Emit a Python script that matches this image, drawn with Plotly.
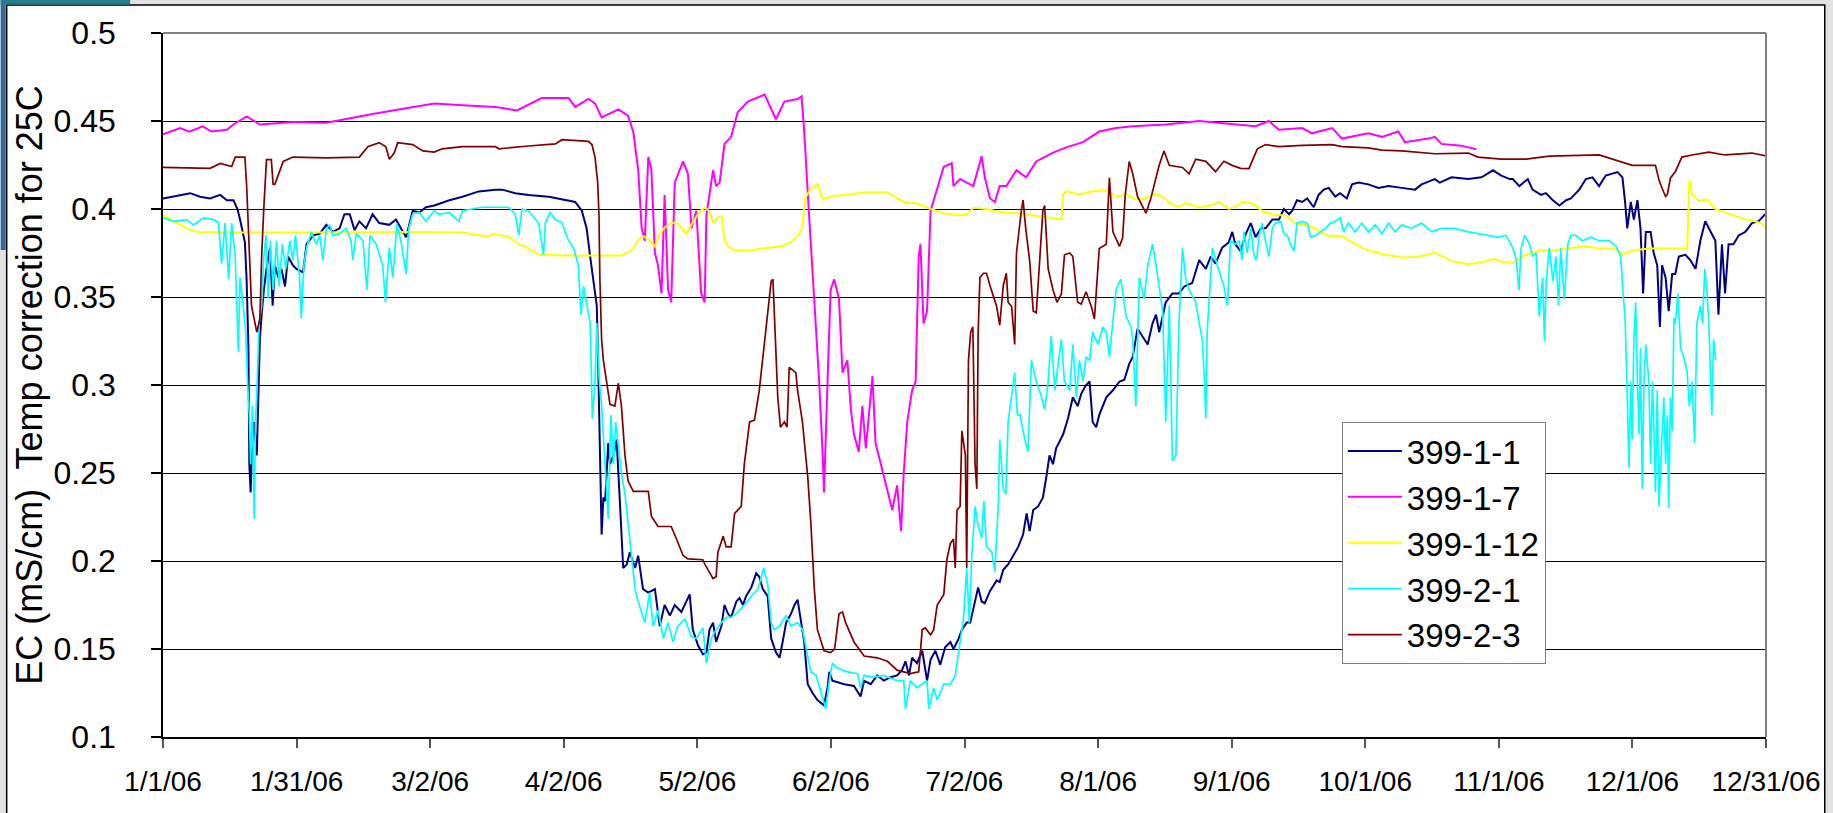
import plotly.graph_objects as go

# ---------------- data (day of year 2006, value) ----------------
TICK_LABELS = ["1/1/06", "1/31/06", "3/2/06", "4/2/06", "5/2/06", "6/2/06", "7/2/06",
               "8/1/06", "9/1/06", "10/1/06", "11/1/06", "12/1/06", "12/31/06"]
Y_TICKS = [0.1, 0.15, 0.2, 0.25, 0.3, 0.35, 0.4, 0.45, 0.5]
SERIES_NAMES = ["399-1-1", "399-1-7", "399-1-12", "399-2-1", "399-2-3"]
SERIES_COLORS = ["#000080", "#FF00FF", "#FFFF00", "#00FFFF", "#800000"]

DAY_1_1 = [0, 3.9, 6.2, 8.4, 10.7, 13, 14.5, 16, 16.9, 17.5, 18.1, 18.6, 19, 19.4, 19.6, 19.9, 20.2, 20.7,
           21.3, 21.6, 22, 22.4, 22.9, 23.5, 24.3, 24.9, 25.4, 26.2, 26.9, 27.7, 28.4, 29.5, 30.3, 31.8,
           32.6, 34.1, 35.6, 37.1, 38.6, 40.1, 41.2, 42.4, 43.5, 44.6, 46.1, 47.6, 49.1, 51.4, 52.9, 55.2,
           56.7, 58.2, 59.7, 61.6,
           62.7, 65, 68, 71.7, 75.5, 77, 80, 83, 87.6, 92.1, 93.6, 95.1, 96.2, 97, 97.7, 98.5, 98.9, 99.2,
           99.6, 100, 100.4, 101.1, 101.5, 102.3, 103, 103.8, 104.5, 105.3, 106, 107.2, 107.9, 109, 110.2,
           111.7, 112.8, 113.9, 115.1, 116.2, 117.7, 119.6, 120.3, 121.5,
           122.6, 123.4, 124.1, 124.9, 125.6, 126.8, 127.5, 128.3, 129, 130.2, 130.9, 131.7, 132.4, 133.6,
           134.7, 135.4, 136.2, 137.3, 138.1, 139.2, 140, 140.7, 141.5, 142.6, 143.4, 144.1, 144.9, 145.6,
           146.4, 147.5, 148.6, 150.1, 150.9, 151.3, 152, 153.2, 154.7, 156.9, 158.4, 159.2, 160.7, 162.2,
           163.7, 165.2, 166.7, 167.8, 168.6, 169.4, 170.1, 171.2, 172.4, 173.5, 174.3, 175.4, 176.5, 177.6,
           178.8, 179.5, 180.7, 181.4, 182.5,
           183.3, 184.4, 185.1, 185.9, 186.6, 187.8, 189.3, 190, 190.8, 191.9, 193, 194.2, 195.3, 196.1,
           196.8, 197.6, 198.7, 199.8, 200.6, 201.3, 202.1, 202.8, 204.4, 205.5, 206.6, 207.7, 208.5, 209.6,
           210.4, 211.1, 211.9, 212.6, 214.2, 215.7, 217.2, 218.3, 219.4, 220.2, 221.3, 222.4, 223.6, 224.7,
           225.5, 226.2, 227.7, 229.2, 230.7, 231.9, 233.7, 235.3, 236.8, 237.9, 239, 240.5, 242, 242.8,
           243.5, 244.7,
           245.9, 247, 248.1, 249.3, 250.4, 251.9, 253.4, 254.5, 255.7, 256.4, 257.5, 258.7, 259.8, 261.3,
           262.4, 263.6, 264.7, 266.2, 267.3, 268.8, 270, 271.5, 273.7, 276, 278.3, 281.3, 284.3, 285.8,
           288.8, 289.9, 292.6, 296.4, 299.4, 302, 303.9, 305.8,
           306.5, 308, 309.9, 311, 312.9, 314, 315.6, 317.1, 318.6, 319.7, 321.6, 323.1, 324.6, 326.1, 327.6,
           330.3, 331.4, 332, 332.5, 333.3, 334, 334.8, 335.5, 336.1, 336.7, 337.8, 338.5, 339.3, 339.9,
           340.4, 341.2, 341.9, 342.7, 343.4, 344.2, 345.7, 346.8, 348, 349.1, 350.2, 351.4, 352.5, 353.2,
           354, 354.7, 355.5, 356.6, 357.8, 359.3, 360.8, 362.3, 363.8]
VAL_1_1 = [.406, .408, .409, .407, .406, .408, .405, .405, .400, .394, .387, .381, .359, .321, .255, .239, .264, .279,
           .260, .297, .326, .340, .354, .366, .378, .345, .368, .361, .366, .356, .373, .368, .366, .364,
           .380, .385, .386, .391, .387, .389, .397, .397, .388, .393, .389, .397, .392, .391, .394, .384,
           .399, .398, .401, .402,
           .403, .405, .407, .410, .411, .411, .409, .408, .407, .405, .404, .399, .389, .373, .361, .345, .302, .255,
           .215, .236, .234, .267, .255, .260, .269, .231, .196, .198, .205, .196, .203, .184, .182,
           .184, .163, .175, .169, .175, .171, .181, .161, .152,
           .147, .148, .161, .165, .154, .163, .175, .170, .168, .177, .179, .175, .180, .185,
           .193, .191, .184, .180, .156, .148, .145, .154, .165, .170, .175, .178, .165, .154,
           .130, .125, .121, .118, .128, .137, .132, .131, .130, .129, .123, .132, .130, .135,
           .132, .134, .135, .138, .143, .135, .145, .142, .149, .132, .144, .149, .141, .151,
           .154, .150, .156, .161, .165,
           .165, .177, .185, .177, .176, .183, .189, .188, .195, .198, .203, .208, .215, .227,
           .217, .229, .231, .236, .248, .260, .255, .264, .272, .281, .293, .288, .295, .300,
           .302, .279, .276, .283, .293, .297, .302, .303, .312, .316, .332, .328, .323, .335,
           .340, .330, .347, .352, .352, .356, .358, .371, .366, .373, .369, .378, .381, .387,
           .380, .376,
           .386, .392, .384, .389, .389, .394, .394, .400, .397, .399, .405, .404, .406, .401,
           .408, .411, .412, .407, .409, .406, .414, .415, .414, .412, .413, .412, .411, .414,
           .417, .415, .418, .417, .418, .422, .419, .417,
           .417, .413, .417, .411, .408, .409, .405, .402, .405, .406, .411, .417, .418, .413, .419,
           .421, .418, .404, .389, .404, .394, .405, .389, .352, .387, .387, .375, .368, .333,
           .368, .361, .342, .363, .363, .373, .374, .371, .366, .382, .393, .387, .382, .340,
           .380, .352, .380, .380, .385, .387, .392, .393, .397]

DAY_1_7 = [0, 3.9, 6, 9, 11, 14.5, 16, 19, 22, 29.5, 37.1, 43.1, 47.6, 52.2, 56.7, 61.6,
           68, 75.5, 80.4, 86, 92.1, 93.6, 96.6, 98.1, 99.6, 103.4, 105.6, 106.8, 107.9, 108.7, 109.4,
           110.2, 110.9, 111.7, 112.4, 113.2, 113.9, 114.7, 115.4, 116.2, 118.1, 119.2, 120, 121.1, 122.2,
           123, 123.4, 124.1, 124.9, 125.6, 126.4, 127.5, 129, 130.5, 132.8, 136.6, 139.2, 141.1, 144.1,
           145, 145.6, 146.7, 147.9, 149, 149.8, 150.1, 150.9, 151.6, 152.4, 153.5, 154.3, 155.4, 156.2,
           156.9, 158, 158.8, 159.6, 161.1, 161.8, 163, 164.1, 165.6, 166.7, 167.6, 168.2, 169, 170.1,
           170.9, 171.6, 172, 172.7, 173.5, 174.3, 175.8, 177.3, 179.1, 179.5, 181, 183.3,
           184, 185.9, 186.6, 187.8, 188.9, 190, 191.5, 193.8, 196, 198.3, 202.1, 205.1, 208.9, 212.6,
           216.4, 220.2, 227.7, 235.3, 244.7,
           248.1, 251.1, 253.4, 258.7, 260.9, 265.5, 267.7, 273.7, 276.8, 280.5, 282, 287.3, 288.8,
           290.3, 294.8, 298.2]
VAL_1_7 = [.4425, .446, .444, .447, .444, .445, .448, .4526, .448, .4495, .449, .452, .454, .456, .458, .460,
           .459, .458, .456, .463, .463, .458, .4625, .460, .452, .4566, .453, .4436, .4224, .389, .382,
           .4295, .4224, .375, .368, .352, .408, .354, .347, .415, .427, .420, .389, .399, .352,
           .347, .3965, .408, .422, .413, .415, .437, .441, .455, .461, .465, .451, .461, .4625,
           .464, .444, .397, .349, .302, .260, .239, .302, .354, .360, .349, .307, .314, .286,
           .272, .262, .288, .264, .305, .267, .255, .243, .229, .243, .217, .250, .279, .297,
           .302, .373, .380, .335, .342, .399, .411, .424, .426, .413, .417, .414,
           .413, .430, .418, .406, .404, .413, .413, .422, .418, .427, .432, .435, .438, .444,
           .446, .447, .448, .450, .448,
           .447, .450, .445, .446, .443, .446, .440, .443, .441, .444, .438, .440, .441,
           .437, .436, .434]

DAY_1_12 = [0, 2.4, 5.4, 7.7, 14.5, 29.5, 44.6, 59.7,
            68, 70.2, 74, 74.7, 78.5, 80.8, 83, 85.3, 90.6, 98.1, 104.1, 106.4, 107.9, 109, 110.5, 111.7,
            112.8, 113.9, 115.4, 116.9, 118.8, 120.7, 121.9,
            123, 124.1, 124.9, 126, 126.9, 127.5, 128.3, 129.8, 132.8, 136.6, 140.3, 142.6, 144.1, 145.2,
            145.8, 147.1, 148.6, 149.8, 151.6, 155.4, 159.2, 164.5, 168.2, 171.2, 174.3, 177.3, 180.3, 182.5,
            184, 187, 190, 193.8, 197.6, 200.6, 204, 204.4, 205.1, 208.1, 211.1, 214.2, 216.4, 218.7, 220.9,
            222.4, 224.7, 226.2, 227.7, 229.2, 230.7, 232.2, 235.3, 238.3, 239.8, 242, 243.5,
            245.1, 247.4, 249.6, 252.6, 254.9, 257.2, 260.2, 264.7, 267.7, 270.7, 273.7, 277.5, 281.3,
            285.1, 288.8, 292.6, 296.4, 300.1, 302.4, 303.9, 305.8,
            306.5, 309.5, 312.5, 315.6, 318.6, 323.1, 326.1, 329.9, 331.4, 333.6, 337.4, 341.2, 346.1,
            346.6, 347.2, 348.7, 350.6, 352.5, 356.3, 359.3, 360.8, 363, 364]
VAL_1_12 = [.3965, .393, .389, .387, .3866, .3866, .387, .387,
            .3866, .3858, .3842, .3858, .3842, .380, .3776, .3741, .3736, .3736, .3736, .3764, .3823, .3847, .3823, .3788,
            .3858, .3894, .3922, .3917, .3858, .3941, .3988,
            .4007, .3988, .3922, .3953, .3953, .3823, .3788, .3764, .3764, .3776, .3788, .3811, .3847, .3894,
            .4059, .4118, .4142, .4054, .4071, .4083, .4094, .4094, .404, .4031, .400, .3976, .3965, .3969,
            .4007, .400, .3983, .3976, .3965, .3953, .3941, .4083, .4101, .4083, .4101, .4106, .4071, .4083, .4054,
            .4054, .4078, .4083, .4054, .4024, .4012, .4035, .4007, .4024, .404, .400, .4012,
            .404, .4031, .3988, .3965, .3965, .3917, .3906, .3847, .3847, .380, .3764, .3741, .3724,
            .3729, .3752, .3705, .3686, .370, .3717, .370, .3693,
            .3693, .3741, .3764, .3764, .3776, .3788, .3776, .3776, .3741, .3764, .3776, .3776, .3776,
            .4165, .4083, .4047, .4054, .400, .3965, .3941, .3936, .3917, .3894]

DAY_2_1 = [0, 2.4, 5.4, 6.9, 9.2, 11.5, 12.6, 13.3, 14.1, 14.9, 15.6, 16.4, 17.1, 17.5, 18.2, 18.8, 19.2,
           19.6, 19.9, 20.3, 20.7, 21, 21.4, 21.8, 22.4, 22.9, 23.4, 23.9, 24.4, 25, 25.8, 26.4, 27.1, 27.9,
           28.8, 29.5, 30.1, 31, 31.4, 32, 32.6, 33.7, 34.8, 35.6, 36.3, 37.1, 37.8, 38.6, 40.1, 41.6, 42.7,
           43.1, 43.9, 45.4, 46.3, 47, 48.4, 49.9, 50.5, 51.4, 52.2, 53.1, 54, 55.2, 55.8, 56.7, 58.2, 59.7,
           61.6,
           62.7, 65, 67.2, 68, 70.2, 72.5, 75.5, 78.5, 80, 80.8, 81.5, 83, 85.3, 86.4, 86.8, 87.9, 89.1,
           90.6, 92.1, 93.2, 94.3, 94.9, 95.5, 96.2, 97, 97.5, 98.1, 98.5, 99, 99.6, 100.4, 101.1, 101.7,
           102.3, 102.8, 103.4, 104.1, 104.9, 105.6, 106.4, 107.2, 107.9, 108.7, 109.4, 110.5, 111.3, 112.4,
           113.6, 114.7, 115.8, 116.9, 118.5, 120, 121.1, 122.6,
           123.4, 124.5, 125.6, 126.8, 127.9, 129, 130.5, 132, 133.6, 135.1, 136.4, 137.3, 138.1, 138.8,
           140, 141.5, 142.6, 144.1, 145.2, 146, 147.1, 148.3, 149.4, 150.5, 151.3, 152, 153.2, 155.4,
           157.7, 158.4, 159.2, 161.4, 163.7, 166.7, 168.2, 168.6, 169.7, 171.2, 173.5, 173.9, 175, 175.8,
           177.3, 178.8, 179.9, 181, 181.8, 182.5,
           183.1, 183.6, 184.4, 185.1, 185.9, 186.4, 187, 188.2, 188.9, 189.7, 190, 190.8, 191.4, 191.9,
           192.7, 193.4, 194, 194.6, 195.7, 196.4, 197.2, 198.3, 199.5, 200.2, 201, 201.7, 202.5, 203.2,
           204, 204.7, 205.9, 206.6, 207.4, 208.1, 208.9, 209.6, 210.4, 211.1, 212.3, 213.4, 214.2, 214.9,
           215.7, 216.4, 217.5, 218.7, 219.8, 220.2, 220.9, 221.7, 222.8, 223.6, 224.7, 225.5, 227, 227.3,
           227.7, 228.5, 229.2, 230, 230.7, 231.5, 232.2, 233, 234.5, 235.3, 236, 236.4, 236.8, 237.1,
           238.3, 239.4, 240.9, 241.7, 242.4, 243.5,
           244.4, 245, 245.5, 246.2, 247, 247.7, 248.3, 248.9, 249.6, 250.4, 251.1, 251.9, 252.6, 253.8,
           254.5, 255.3, 256, 256.8, 257.5, 258.7, 259.8, 260.6, 261.7, 262.8, 264, 265.1, 266.2, 267.3,
           268.1, 269.2, 270.7, 272.2, 273.7, 275.3, 276.8, 278.3, 279.8, 281.3, 283.5, 285.8, 288.1,
           290.3, 293.3, 296.4, 298.6, 300.9, 303.1, 305,
           306.5, 307.3, 307.9, 308.4, 309.2, 310.3, 311, 311.8, 312.5, 313.3, 313.7, 314.1, 314.8, 315.6,
           316.3, 316.9, 317.4, 318.2, 319, 319.7, 320.8, 322.3, 324.2, 326.1, 328.4, 329.9, 331, 331.5,
           332, 332.5, 332.9, 333.3, 333.6, 334, 334.4, 334.8, 335.2, 335.5, 335.9, 336.3, 336.7, 337,
           337.4, 337.8, 338.2, 338.5, 338.9, 339.3, 339.7, 340.3, 340.8, 341.2, 341.6, 341.9, 342.3,
           342.7, 343.1, 343.4, 344, 344.6, 345.3, 346.1, 346.6, 347.2, 347.8, 348.3, 349.1, 349.6, 350.1,
           350.6, 351.1, 351.7, 352.1, 352.6]
VAL_2_1 = [.395, .393, .394, .391, .395, .394, .392, .369, .392, .360, .392, .373, .319, .361, .345, .330, .302,
           .283, .255, .288, .224, .279, .302, .335, .345, .373, .385, .349, .382, .354, .382, .356, .380, .366,
           .382, .371, .385, .361, .338, .368, .378, .387, .380, .385, .371, .389, .391, .385, .386, .389, .382,
           .371, .386, .382, .354, .385, .380, .368, .347, .378, .361, .392, .382, .363, .389, .397, .398, .393,
           .399,
           .397, .398, .393, .399, .400, .401, .401, .401, .397, .385, .400, .399, .392, .374, .392, .398, .394,
           .392, .382, .378, .368, .340, .356, .347, .335, .281, .302, .335, .305, .288, .250, .224, .283,
           .255, .279, .264, .250, .238, .222, .205, .184, .177, .170, .165, .182, .163, .172,
           .156, .165, .154, .163, .167, .157, .156, .162,
           .142, .156, .161, .165, .168, .168, .171, .175, .180, .184, .196, .187, .165, .161,
           .163, .169, .163, .165, .161, .151, .137, .135, .125, .116, .132, .142, .139, .137,
           .136, .128, .135, .134, .135, .132, .132, .116, .132, .128, .132, .116, .128, .121,
           .130, .130, .135, .154, .168, .196,
           .165, .201, .231, .220, .213, .234, .208, .205, .194, .234, .269, .241, .238, .279,
           .293, .307, .283, .283, .269, .262, .314, .302, .293, .286, .302, .328, .297, .312,
           .326, .302, .297, .323, .293, .314, .302, .316, .314, .330, .323, .333, .330, .316,
           .335, .354, .360, .339, .333, .326, .288, .361, .349, .368, .380, .368, .342, .316,
           .279, .345, .257, .260, .335, .378, .361, .354, .347, .335, .326, .307, .281, .330,
           .378, .368, .356, .345, .382, .380,
           .382, .371, .387, .375, .389, .374, .371, .385, .392, .381, .373, .389, .392, .393,
           .386, .385, .380, .376, .392, .393, .392, .384, .385, .387, .389, .392, .393, .395,
           .387, .392, .387, .392, .387, .391, .386, .392, .387, .391, .389, .392, .387,
           .389, .389, .387, .386, .385, .384, .385,
           .378, .371, .354, .378, .385, .380, .373, .375, .339, .361, .325, .359, .378, .359,
           .373, .345, .378, .349, .380, .385, .385, .382, .384, .382, .382, .379, .373, .354,
           .338, .293, .253, .302, .269, .326, .347, .302, .272, .321, .241, .302, .323, .314,
           .302, .255, .302, .279, .239, .297, .231, .267, .293, .255, .283, .230, .293,
           .274, .338, .335, .352, .321, .316, .307, .288, .302, .267, .335, .345, .335, .366,
           .354, .330, .283, .326, .314]

DAY_2_3 = [0, 10.7, 13, 15.6, 16.4, 18.6, 19, 19.7, 20.1, 20.9, 21.3, 22, 22.4, 22.9, 23.5, 24.6, 25, 25.4,
           26.2, 27.3, 29.5, 37.1, 44.6, 46.5, 49.1, 50.6, 51.4, 52.5, 53.3, 56.7, 59, 61.6,
           63.4, 68, 75.5, 76.3, 83, 89.1, 90.6, 96.6, 97.4, 98.1, 98.7, 99, 99.2, 99.6, 100, 100.7, 101.5,
           102.6, 103.4, 104.1, 104.9, 105.6, 106.8, 110.2, 110.9, 112.4, 115.4, 116.6, 118.1, 119.2, 122.6,
           123, 124.9, 125.6, 126, 127.2, 127.9, 129, 129.8, 131.3, 132, 133.2, 134.3, 135.4, 136.2, 137.3,
           138.1, 138.5, 139, 139.6, 140.2, 141.1, 141.7, 142.2, 143.7, 144.1, 145.2, 146.4, 147.1, 147.9,
           148.6, 150.1, 151.6, 152.5, 153.5, 154.3, 155, 156.9, 159.2, 162.2, 164.5, 166.7, 169.7, 171.6,
           172.4, 173.1, 174.3, 175, 175.8, 177.3, 178, 178.8, 179.5, 179.9, 180.3, 181, 181.4, 181.8,
           182.2, 182.5,
           182.9, 183.4, 183.9, 184.4, 184.8, 185.1, 185.5, 186.3, 187, 187.8, 189.3, 190, 190.8, 191.5,
           191.9, 192.7, 193.4, 193.8, 194.4, 194.9, 195.3, 195.9, 196.8, 197.6, 198.3, 199.1, 199.8, 200.2,
           201, 202.1, 203, 204, 204.7, 205.9, 206.6, 207.7, 208.5, 209.6, 210.8, 211.5, 212.6, 214.2, 214.9,
           215.7, 217.2, 217.9, 218.5, 219.4, 220.2, 221.3, 223.2, 224.3, 225.5, 226.2, 227.3, 228.5, 231.5,
           233, 234.5, 236.8, 239, 240.9, 242.8, 244.7,
           246.6, 247.7, 248.5, 250.4, 253.4, 258.7, 265.5, 267.7, 273.7, 276.8, 281.3, 288.8, 296.4,
           298.6, 303.9, 309.5, 314.8, 326.1, 330.6, 333.6, 338.9, 339.7, 340.4, 341.2, 341.6, 342.3,
           343.4, 344.9, 347.2, 351, 354.7, 360.8, 364]
VAL_2_3 = [.4236, .4231, .4259, .4241, .4295, .4295, .413, .373, .345, .335, .330, .3375, .373, .401, .428, .428, .414, .414,
           .420, .427, .4295, .429, .4295, .4354, .4377, .4354, .4283, .4318, .4377, .4366, .433, .4323,
           .4342, .4354, .4354, .4342, .4358, .437, .4394, .4384, .4366, .4295, .4153, .3965, .361, .3257, .314, .302, .289,
           .288, .301, .288, .260, .2455, .2396, .2396, .2255, .2196, .2196, .2125, .2031, .2012, .2007,
           .1984, .190, .191, .205, .214, .208, .208, .227, .231, .255, .279, .280, .297, .316, .342,
           .359, .360, .330, .293, .276, .279, .276, .310, .307, .297, .279, .248, .222, .184,
           .161, .149, .148, .150, .170, .171, .165, .154, .146, .145, .143, .138, .136, .137,
           .161, .162, .158, .161, .175, .181, .201, .210, .2125, .196, .229, .231, .274, .267,
           .260, .196,
           .314, .330, .333, .255, .241, .330, .361, .3635, .3635, .3564, .3446, .334, .3564, .3635,
           .347, .3446, .323, .375, .389, .399, .405, .389, .3705, .342, .341, .373, .399, .402,
           .366, .354, .347, .3517, .374, .375, .373, .347, .346, .353, .3446, .3375, .3776, .380, .4177,
           .387, .3788, .3835, .408, .427, .420, .407, .3976, .4059, .4177, .4248, .433, .4248, .4236,
           .420, .4283, .4271, .4212, .4271, .4248, .4231,
           .4229, .4295, .4342, .4366, .4354, .4361, .4366, .4354, .4347, .4335, .433, .4314, .4318,
           .4295, .4283, .4283, .430, .4307, .4271, .4248, .4248, .4165, .4118, .4071, .4083, .4177,
           .4212, .4295, .4307, .4323, .4307, .4318, .4302]

SERIES_DAYS = [DAY_1_1, DAY_1_7, DAY_1_12, DAY_2_1, DAY_2_3]
SERIES_VALS = [VAL_1_1, VAL_1_7, VAL_1_12, VAL_2_1, VAL_2_3]
SERIES_WIDTHS = [2.0, 2.0, 2.0, 1.7, 1.7]

# ---------------- figure ----------------
W, H = 1833, 813
ML, MR, MT, MB = 163, 60, 33, 76
PW, PH = W - ML - MR, H - MT - MB


def px(x):
    return (x - ML) / PW


def py(y):
    return (H - MB - y) / PH


fig = go.Figure()
for name, color, xs, ys, lw in zip(SERIES_NAMES, SERIES_COLORS, SERIES_DAYS, SERIES_VALS, SERIES_WIDTHS):
    fig.add_trace(go.Scatter(x=xs, y=ys, mode="lines", name=name,
                             line=dict(color=color, width=lw)))

n_ticks = len(TICK_LABELS)
tickvals = [364 * i / (n_ticks - 1) for i in range(n_ticks)]

font_family = "Arial, 'Liberation Sans', sans-serif"

fig.update_layout(
    width=W, height=H,
    margin=dict(l=ML, r=MR, t=MT, b=MB, pad=0),
    paper_bgcolor="#e2e2e2",
    plot_bgcolor="#ffffff",
    font=dict(family=font_family, color="#000000"),
    showlegend=True,
    legend=dict(x=px(1347), y=py(422), xanchor="left", yanchor="top",
                bgcolor="#ffffff", bordercolor="#808080", borderwidth=1,
                font=dict(size=33, family=font_family, color="#000000"),
                itemwidth=54, tracegroupgap=0),
    xaxis=dict(range=[0, 364], tickmode="array", tickvals=tickvals, ticktext=TICK_LABELS,
               showgrid=False, zeroline=False, showline=True, linecolor="#000000", linewidth=1.5,
               ticks="outside", ticklen=9, tickwidth=1.5, tickcolor="#555555",
               tickfont=dict(size=28, family=font_family), ticklabelstandoff=10),
    yaxis=dict(range=[0.1, 0.5], tickmode="array", tickvals=Y_TICKS,
               ticktext=[f"{v:g}" for v in Y_TICKS],
               showgrid=True, gridcolor="#000000", gridwidth=1, zeroline=False,
               showline=True, linecolor="#000000", linewidth=1.5,
               ticks="outside", ticklen=10, tickwidth=1.5, tickcolor="#000000",
               tickfont=dict(size=32, family=font_family), ticklabelstandoff=29,
               title=dict(text="EC (mS/cm)  Temp correction for 25C",
                          font=dict(size=36, family=font_family), standoff=0)),
    shapes=[
        # white slide frame with black border
        dict(type="rect", xref="paper", yref="paper", x0=px(6), x1=px(1832), y0=py(840), y1=py(5),
             fillcolor="#ffffff", line=dict(color="#000000", width=1.5), layer="below"),
        # teal corner of slide background
        dict(type="rect", xref="paper", yref="paper", x0=px(0), x1=px(5), y0=py(250), y1=py(0),
             fillcolor="#2f6aa0", line=dict(width=0), layer="below"),
        dict(type="rect", xref="paper", yref="paper", x0=px(0), x1=px(130), y0=py(4.5), y1=py(0),
             fillcolor="#1f7f8c", line=dict(width=0), layer="below"),
        # gray plot border top and right
        dict(type="line", xref="paper", yref="paper", x0=0, x1=1, y0=1, y1=1,
             line=dict(color="#808080", width=2), layer="above"),
        dict(type="line", xref="paper", yref="paper", x0=1, x1=1, y0=0, y1=1,
             line=dict(color="#808080", width=2), layer="above"),
    ],
)

fig.write_html("out.html", config={"displayModeBar": False},
               post_script="document.body.style.margin='0';"
                           "document.body.style.overflow='hidden';"
                           "document.documentElement.style.overflow='hidden';")
